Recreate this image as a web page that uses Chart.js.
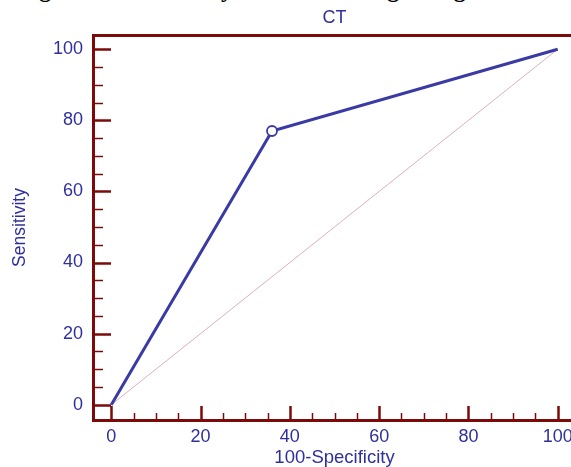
<!DOCTYPE html>
<html>
<head>
<meta charset="utf-8">
<script src="https://cdn.jsdelivr.net/npm/chart.js@4.4.1/dist/chart.umd.min.js"></script>
<style>
    html, body { margin: 0; padding: 0; background: #fff; }
    body { width: 571px; height: 467px; overflow: hidden; position: relative; }
    #caption {
        position: absolute; left: 18px; top: -24px; line-height: 26px; white-space: nowrap;
        font: bold 24px "Liberation Serif", "DejaVu Serif", serif; color: #000;
    }
    #rocChart { position: absolute; left: 0; top: 0; }
</style>
</head>
<body>
<div id="caption">Figure 3: ROC analysis of CT in diagnosing</div>
<canvas id="rocChart" width="600" height="467"></canvas>
<script>
// ROC data
const specValues = [0, 36, 100];      // 100-Specificity
const sensValues = [0, 77, 100];      // Sensitivity
const refLine = [0, 100];             // diagonal reference
const axisTicks = [0, 20, 40, 60, 80, 100];
const minorStep = 5;

const AXIS = '#7d0a0a';
const BLUE = '#3a3aa6';
const LABEL = '#2f2f9e';
const FONT = 'Liberation Sans, Arial, sans-serif';

// Inside tick marks (major + minor) drawn off the chart scales
const tickMarks = {
    id: 'tickMarks',
    afterDraw(chart) {
        const { ctx, chartArea } = chart;
        const x = chart.scales.x, y = chart.scales.y;
        ctx.save();
        ctx.strokeStyle = AXIS;
        for (let v = 0; v <= 100; v += minorStep) {
            const major = axisTicks.includes(v);
            ctx.lineWidth = major ? 2.5 : 1.5;
            const px = Math.round(x.getPixelForValue(v)) + 0.5;
            ctx.beginPath();
            ctx.moveTo(px, chartArea.bottom);
            ctx.lineTo(px, chartArea.bottom - (major ? 14 : 7));
            ctx.stroke();
            const py = Math.round(y.getPixelForValue(v)) + 0.5;
            ctx.beginPath();
            ctx.moveTo(chartArea.left, py);
            ctx.lineTo(chartArea.left + (major ? 18 : 10), py);
            ctx.stroke();
        }
        ctx.restore();
    }
};

const ctx = document.getElementById('rocChart').getContext('2d');
new Chart(ctx, {
    type: 'line',
    data: {
        datasets: [{
            label: 'CT',
            data: specValues.map((v, i) => ({ x: v, y: sensValues[i] })),
            borderColor: BLUE,
            borderWidth: 3,
            pointRadius: [0, 5, 0],
            pointBackgroundColor: '#fff',
            pointBorderColor: BLUE,
            pointBorderWidth: 1.8,
            tension: 0,
            order: 1
        }, {
            label: 'Reference',
            data: refLine.map(v => ({ x: v, y: v })),
            borderColor: '#dcb0b8',
            borderWidth: 1,
            pointRadius: 0,
            order: 2
        }]
    },
    options: {
        responsive: false,
        animation: false,
        layout: { padding: { right: 24 } },
        plugins: {
            legend: { display: false },
            tooltip: { enabled: false }
        },
        scales: {
            x: {
                type: 'linear',
                min: -4.1,
                max: 104.1,
                afterBuildTicks: s => { s.ticks = axisTicks.map(v => ({ value: v })); },
                afterFit: s => { s.height = 47; },
                grid: { display: false, drawTicks: false },
                border: { display: true, color: AXIS, width: 3 },
                ticks: { color: LABEL, padding: 6, font: { family: FONT, size: 18 }, maxRotation: 0 },
                title: {
                    display: true, text: '100-Specificity', color: LABEL,
                    font: { family: FONT, size: 18.5, lineHeight: 1 },
                    padding: { top: 0, bottom: 0 }
                }
            },
            xTop: {
                type: 'linear',
                position: 'top',
                min: -4.1,
                max: 104.1,
                afterFit: s => { s.height = 35; },
                grid: { display: false, drawTicks: false },
                border: { display: true, color: AXIS, width: 3 },
                ticks: { display: false },
                title: {
                    display: true, text: 'CT', color: LABEL,
                    font: { family: FONT, size: 18, lineHeight: 1 },
                    padding: { top: 9, bottom: 0 }
                }
            },
            y: {
                type: 'linear',
                min: -4.3,
                max: 104,
                afterBuildTicks: s => { s.ticks = axisTicks.map(v => ({ value: v })); },
                afterFit: s => { s.width = 93; },
                grid: { display: false, drawTicks: false },
                border: { display: true, color: AXIS, width: 3 },
                ticks: { color: LABEL, padding: 10, font: { family: FONT, size: 18 } },
                title: {
                    display: true, text: 'Sensitivity', color: LABEL,
                    font: { family: FONT, size: 17.5, lineHeight: 1 },
                    padding: { top: 11, bottom: 0 }
                }
            }
        }
    },
    plugins: [tickMarks]
});
</script>
</body>
</html>
